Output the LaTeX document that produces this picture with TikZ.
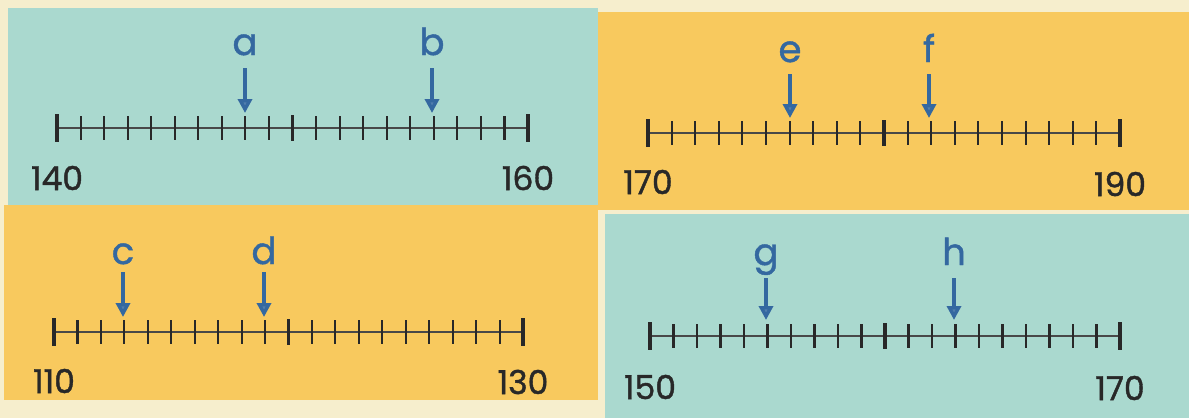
\documentclass[tikz,border=0pt]{standalone}
\usepackage{fontspec}
\setmainfont{Poppins}
\newfontfamily\boldish[FakeBold=1.2]{Poppins}
\usetikzlibrary{arrows.meta}
\definecolor{teal1}{RGB}{170,217,207}
\definecolor{orng}{RGB}{248,201,94}
\definecolor{cream}{RGB}{246,238,205}
\definecolor{ink}{RGB}{40,40,40}
\definecolor{blu}{RGB}{52,104,160}
\tikzset{
  axis/.style={line width=1.8pt, draw=ink!85},
  tk/.style={line width=2.1pt, draw=ink},
  bigtk/.style={line width=3.2pt, draw=ink},
  numtxt/.style={text=ink, font=\boldish\fontsize{33}{33}\selectfont, inner sep=0pt},
  lab/.style={text=blu, font=\boldish\fontsize{37}{37}\selectfont, inner sep=0pt},
  arr/.style={line width=3.4pt, draw=blu, -{Triangle[length=14pt,width=14pt,fill=blu!85]}},
}
\newcommand\myNL[8]{% name, x0, x1, y, start, end, text y start, text y end
  \coordinate (#1s) at (#2,#4);
  \coordinate (#1e) at (#3,#4);
  \draw[axis] (#1s) -- (#1e);
  \foreach \i in {1,...,19}{
    \pgfmathsetmacro\xx{#2+(#3-#2)*\i/20}
    \ifnum\i=10
      \draw[bigtk] (\xx,#4-13) -- (\xx,#4+13);
    \else
      \draw[tk] (\xx,#4-12) -- (\xx,#4+12);
    \fi
  }
  \draw[bigtk] (#2,#4-14) -- (#2,#4+14);
  \draw[bigtk] (#3,#4-14) -- (#3,#4+14);
  \node[numtxt] (#1n0) at (#2,#7) {#5};
  \node[numtxt] (#1n1) at (#3,#8) {#6};
}
\newcommand\myArr[5]{% name, x, label y, arrow top y, arrow tip y
  \node[lab, anchor=base] (#1) at (#2,#3) {#1};
  \coordinate (#1top) at (#2,#4);
  \coordinate (#1tip) at (#2,#5);
  \draw[arr] (#1top) -- (#1tip);
}
\begin{document}
\begin{tikzpicture}[x=1pt,y=-1pt]
\useasboundingbox (0,0) rectangle (1189,418);
\fill[cream] (0,0) rectangle (1189,418);
\fill[teal1] (8,8) rectangle (598,205);
\fill[orng] (598,12) rectangle (1189,210);
\fill[orng] (4,205) rectangle (598,400);
\fill[teal1] (605,214) rectangle (1189,418);
% top left
\myNL{A}{57}{528}{128}{140}{160}{178}{178}
\myArr{a}{245}{55}{68}{113}
\myArr{b}{432}{55}{68}{113}
% top right
\myNL{B}{648}{1120}{133}{170}{190}{182}{184}
\myArr{e}{790}{62}{74}{118}
\myArr{f}{929}{62}{74}{118}
% bottom left
\myNL{C}{54}{523}{332}{110}{130}{381}{382}
\myArr{c}{123}{264}{272}{317}
\myArr{d}{264}{264}{272}{317}
% bottom right
\myNL{D}{650}{1120}{336}{150}{170}{387}{388}
\myArr{g}{766}{265}{278}{320}
\myArr{h}{954}{265}{278}{320}
\end{tikzpicture}
\end{document}
